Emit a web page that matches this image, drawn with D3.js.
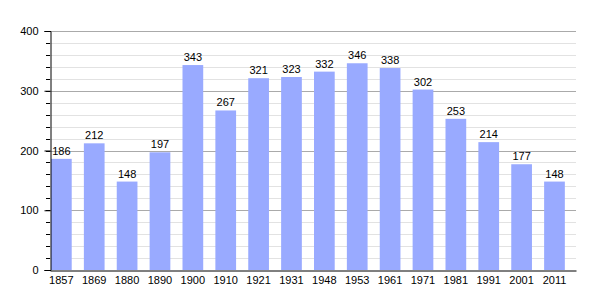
<!DOCTYPE html>
<html>
<head>
<meta charset="utf-8">
<script src="https://cdn.jsdelivr.net/npm/d3@7"></script>
<style>
  body { margin: 0; background: #fff; }
  text { font-family: "Liberation Sans", Arial, sans-serif; font-size: 11px; fill: #000; }
</style>
</head>
<body>
<div id="chart"></div>
<script>
// population by census year
var years = ["1857", "1869", "1880", "1890", "1900", "1910", "1921", "1931",
             "1948", "1953", "1961", "1971", "1981", "1991", "2001", "2011"];
var population = [186, 212, 148, 197, 343, 267, 321, 323,
                  332, 346, 338, 302, 253, 214, 177, 148];
var yTicks = [0, 100, 200, 300, 400];

var width = 605, height = 300;
var margin = { top: 31, right: 29, bottom: 30, left: 50 };

var svg = d3.select("#chart").append("svg")
    .attr("width", width)
    .attr("height", height);

var x = d3.scaleBand()
    .domain(years)
    .range([margin.left, width - margin.right]);

var y = d3.scaleLinear()
    .domain([0, 400])
    .range([height - margin.bottom, margin.top]);

var barW = x.step() * 0.63;

// minor grid every 20
svg.append("g")
    .selectAll("line")
    .data(d3.range(20, 400, 20).filter(function (d) { return d % 100 != 0; }))
    .join("line")
    .attr("x1", margin.left)
    .attr("x2", width - margin.right)
    .attr("y1", function (d) { return Math.round(y(d)) + 0.5; })
    .attr("y2", function (d) { return Math.round(y(d)) + 0.5; })
    .attr("stroke", "#e2e2e2");

// major grid
svg.append("g")
    .selectAll("line")
    .data(yTicks.slice(1))
    .join("line")
    .attr("x1", margin.left)
    .attr("x2", width - margin.right)
    .attr("y1", function (d) { return Math.round(y(d)) + 0.5; })
    .attr("y2", function (d) { return Math.round(y(d)) + 0.5; })
    .attr("stroke", "#aaaaaa");

// bars
svg.append("g")
    .selectAll("rect")
    .data(population)
    .join("rect")
    .attr("x", function (d, i) { return x(years[i]) + 1; })
    .attr("y", function (d) { return y(d); })
    .attr("width", barW)
    .attr("height", function (d) { return y(0) - y(d); })
    .attr("fill", "#99aaff");

// value labels
svg.append("g")
    .selectAll("text")
    .data(population)
    .join("text")
    .attr("x", function (d, i) { return x(years[i]) + 1 + barW / 2; })
    .attr("y", function (d) { return y(d) - 4; })
    .attr("text-anchor", "middle")
    .text(function (d) { return d; });

// y minor ticks
svg.append("g")
    .selectAll("line")
    .data(d3.range(0, 401, 20))
    .join("line")
    .attr("x1", margin.left - 4)
    .attr("x2", margin.left)
    .attr("y1", function (d) { return Math.round(y(d)) + 0.5; })
    .attr("y2", function (d) { return Math.round(y(d)) + 0.5; })
    .attr("stroke", "#000");

// y axis
var yAxis = svg.append("g")
    .attr("transform", "translate(" + (margin.left + 0.5) + ",0)")
    .call(d3.axisLeft(y).tickValues(yTicks).tickSize(6).tickPadding(6));
yAxis.select(".domain").attr("stroke", "#000");
yAxis.selectAll("text").style("font-size", "11px");

// x axis
var xAxis = svg.append("g")
    .attr("transform", "translate(0," + (Math.round(y(0)) + 0.5) + ")")
    .call(d3.axisBottom(x).tickSize(0).tickPadding(6));
xAxis.select(".domain").attr("stroke", "#000");
xAxis.selectAll(".tick")
    .attr("transform", function (d) { return "translate(" + (x(d) + 1 + barW / 2) + ",0)"; });
xAxis.selectAll("text").style("font-size", "11px");
</script>
</body>
</html>
